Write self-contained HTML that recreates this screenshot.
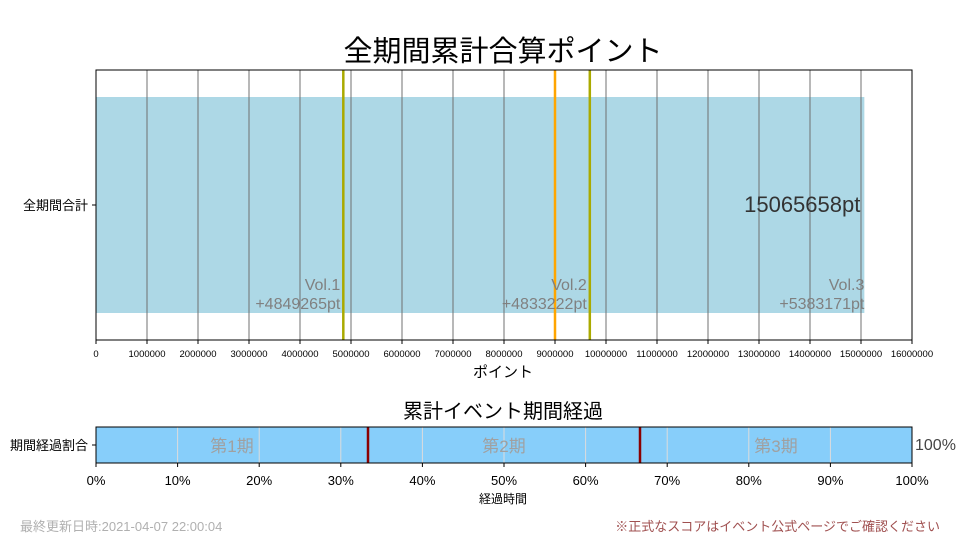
<!DOCTYPE html>
<html><head><meta charset="utf-8"><style>
html,body{margin:0;padding:0;background:#fff;width:960px;height:540px;overflow:hidden}
svg{display:block;font-family:"Liberation Sans","Noto Sans CJK JP",sans-serif}
</style></head><body>
<svg id="c" width="960" height="540"></svg>
<script>
const totalLabel=["全期間合計"];
const totalValue=[15065658];
const volNames=["Vol.1","Vol.2","Vol.3"];
const volValues=[4849265,4833222,5383171];
const targetValue=[9000000];
const xTicks=[0,1000000,2000000,3000000,4000000,5000000,6000000,7000000,8000000,9000000,10000000,11000000,12000000,13000000,14000000,15000000,16000000];
const periodNames=["第1期","第2期","第3期"];
const periodBounds=[0,33.333,66.667,100];
const elapsed=[100];
const pctTicks=[0,10,20,30,40,50,60,70,80,90,100];

const NS="http://www.w3.org/2000/svg";
const svg=document.getElementById('c');
function mk(t,a,txt,p){const e=document.createElementNS(NS,t);for(const k in a)e.setAttribute(k,a[k]);if(txt!=null)e.textContent=txt;(p||svg).appendChild(e);return e;}
const X0=96,X1=912,T0=70,T1=340;
const xs=v=>X0+v/16000000*(X1-X0);
const B0=427,B1=463;
const ps=v=>X0+v/100*(X1-X0);

let e=mk('text',{x:503,y:61,'text-anchor':'middle','font-size':29,fill:'#000'},"全期間累計合算ポイント");

e=mk('rect',{x:X0,y:97,width:xs(totalValue[0])-X0,height:216,fill:'#add8e6'});

xTicks.forEach(t=>{if(t>0&&t<16000000){e=mk('line',{x1:xs(t),x2:xs(t),y1:T0,y2:T1,stroke:'#707070','stroke-width':1});}
 e=mk('line',{x1:xs(t),x2:xs(t),y1:T1,y2:T1+4,stroke:'#000'});
 e=mk('text',{x:xs(t),y:357,'text-anchor':'middle','font-size':9.5,fill:'#000'},String(t));
 });
e=mk('line',{x1:xs(targetValue[0]),x2:xs(targetValue[0]),y1:T0,y2:T1,stroke:'#ffa500','stroke-width':2.5});

let cum=0;
volValues.forEach((v,i)=>{cum+=v;const x=xs(cum);
 if(i<2){e=mk('line',{x1:x,x2:x,y1:T0,y2:T1,stroke:'#aaaa00','stroke-width':2.5});}
 const tx=i<2?x-3:x;
 e=mk('text',{x:tx,y:290,'text-anchor':'end','font-size':16,fill:'#808080'},volNames[i]);
 
 e=mk('text',{x:tx,y:309,'text-anchor':'end','font-size':16,fill:'#808080'},"+"+v+"pt");
 });
e=mk('text',{x:xs(totalValue[0])-4,y:212,'text-anchor':'end','font-size':22,fill:'#333'},totalValue[0]+"pt");

e=mk('rect',{x:X0,y:T0,width:X1-X0,height:T1-T0,fill:'none',stroke:'#000','stroke-width':1});

mk('line',{x1:X0-4,x2:X0,y1:205,y2:205,stroke:'#000'});
e=mk('text',{x:X0-8,y:210,'text-anchor':'end','font-size':13,fill:'#000'},totalLabel[0]);

e=mk('text',{x:503,y:377,'text-anchor':'middle','font-size':15,fill:'#000'},"ポイント");


e=mk('text',{x:503,y:418,'text-anchor':'middle','font-size':20,fill:'#000'},"累計イベント期間経過");

e=mk('rect',{x:X0,y:B0,width:ps(elapsed[0])-X0,height:B1-B0,fill:'#87cefa'});

pctTicks.forEach(t=>{if(t>0&&t<100){e=mk('line',{x1:ps(t),x2:ps(t),y1:B0,y2:B1,stroke:'#dcdcdc','stroke-width':1});}
 mk('line',{x1:ps(t),x2:ps(t),y1:B1,y2:B1+4,stroke:'#000'});
 e=mk('text',{x:ps(t),y:485,'text-anchor':'middle','font-size':13,fill:'#000'},t+"%");
 });
periodBounds.forEach((b,i)=>{if(i>0&&i<periodBounds.length-1){e=mk('line',{x1:ps(b),x2:ps(b),y1:B0,y2:B1,stroke:'#8b0000','stroke-width':2.5});}});
periodNames.forEach((n,i)=>{const c=(periodBounds[i]+periodBounds[i+1])/2;
 e=mk('text',{x:ps(c),y:452,'text-anchor':'middle','font-size':17,fill:'#a0a0a0'},n);
 });
e=mk('rect',{x:X0,y:B0,width:X1-X0,height:B1-B0,fill:'none',stroke:'#000','stroke-width':1});

mk('line',{x1:X0-4,x2:X0,y1:445,y2:445,stroke:'#000'});
e=mk('text',{x:X0-8,y:450,'text-anchor':'end','font-size':13,fill:'#000'},"期間経過割合");

e=mk('text',{x:915,y:450,'font-size':16,fill:'#444'},elapsed[0]+"%");

e=mk('text',{x:503,y:503,'text-anchor':'middle','font-size':12,fill:'#000'},"経過時間");

e=mk('text',{x:20,y:531,'font-size':13,fill:'#b0b0b0'},"最終更新日時:2021-04-07 22:00:04");

e=mk('text',{x:940,y:531,'text-anchor':'end','font-size':13,fill:'#a05050'},"※正式なスコアはイベント公式ページでご確認ください");

</script>
</body></html>
